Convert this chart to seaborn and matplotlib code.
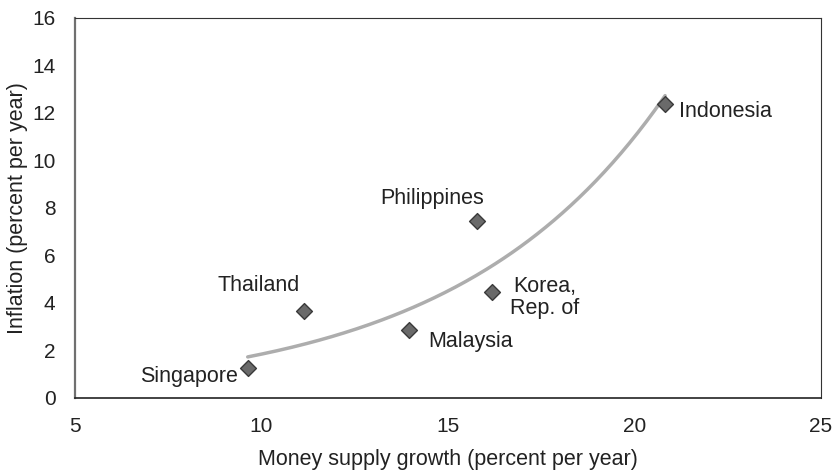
import numpy as np
import pandas as pd
import matplotlib
matplotlib.use("Agg")
import matplotlib.pyplot as plt
import seaborn as sns

countries = ["Singapore", "Thailand", "Malaysia", "Philippines", "Korea,\nRep. of", "Indonesia"]
money_growth = [9.63, 11.14, 13.95, 15.77, 16.19, 20.82]
inflation = [1.25, 3.67, 2.86, 7.44, 4.45, 12.36]
x_ticks = [5, 10, 15, 20, 25]
y_ticks = [0, 2, 4, 6, 8, 10, 12, 14, 16]

sns.set_style("white")
plt.rcParams["font.family"] = ["Liberation Sans", "DejaVu Sans"]

df = pd.DataFrame({"country": countries, "money": money_growth, "infl": inflation})

fig = plt.figure(figsize=(8.4, 4.72), dpi=100)
ax = fig.add_axes([0.0893, 0.1568, 0.8881, 0.8051])

# exponential trendline
b, ln_a = np.polyfit(df["money"], np.log(df["infl"]), 1)
xs = np.linspace(df["money"].min(), df["money"].max(), 200)
trend = pd.DataFrame({"x": xs, "y": np.exp(ln_a) * np.exp(b * xs)})
sns.lineplot(data=trend, x="x", y="y", ax=ax, color="#adadad", linewidth=2.5, zorder=2)

sns.scatterplot(data=df, x="money", y="infl", ax=ax, marker="D", s=65,
                color="#6a6a6a", edgecolor="#3a3a3a", linewidth=1.0, zorder=3)

offsets = {
    "Singapore": ((-10, -8), "right"),
    "Thailand": ((-45, 25), "center"),
    "Malaysia": ((19, -11), "left"),
    "Philippines": ((-45, 23), "center"),
    "Korea,\nRep. of": ((18, -5), "left"),
    "Indonesia": ((14, -7), "left"),
}
for c, xv, yv in zip(countries, money_growth, inflation):
    off, ha = offsets[c]
    ax.annotate(c, (xv, yv), xytext=off, textcoords="offset pixels",
                ha=ha, va="center", multialignment="center",
                fontsize=15.5, color="#222222", linespacing=1.05)

ax.set_xlim(5, 25)
ax.set_ylim(0, 16)
ax.set_xticks(x_ticks)
ax.set_yticks(y_ticks)
ax.tick_params(axis="both", length=0, labelsize=15, colors="#222222")
ax.tick_params(axis="x", pad=14)
ax.tick_params(axis="y", pad=14)
ax.set_xlabel("Money supply growth (percent per year)", fontsize=15.5, color="#222222", labelpad=9)
ax.set_ylabel("Inflation (percent per year)", fontsize=15.5, color="#222222", labelpad=3)
for s in ["top", "right"]:
    ax.spines[s].set_visible(True)
    ax.spines[s].set_color("#333333")
    ax.spines[s].set_linewidth(0.8)
ax.spines["bottom"].set_color("#222222")
ax.spines["bottom"].set_linewidth(1.2)
ax.spines["left"].set_color("#707070")
ax.spines["left"].set_linewidth(1.6)

fig.savefig("out.png", dpi=100)
